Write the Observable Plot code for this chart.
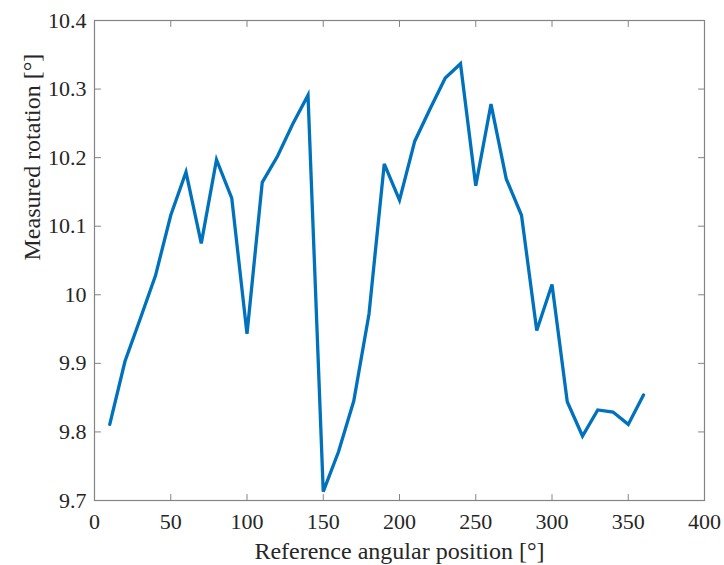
<!DOCTYPE html>
<html>
<head>
<meta charset="utf-8">
<script src="https://cdn.jsdelivr.net/npm/d3@7"></script>
<script src="https://cdn.jsdelivr.net/npm/@observablehq/plot@0.6"></script>
<style>
  html, body { margin: 0; padding: 0; background: #fff; }
  #chart { width: 724px; height: 565px; }
  #chart svg, #chart svg text { font-family: "Liberation Serif", "DejaVu Serif", serif !important; }
</style>
</head>
<body>
<div id="chart"></div>
<script>
const angles = [10,20,30,40,50,60,70,80,90,100,110,120,130,140,150,160,170,180,190,200,210,220,230,240,250,260,270,280,290,300,310,320,330,340,350,360];
const rotations = [9.811,9.903,9.965,10.028,10.116,10.179,10.075,10.197,10.141,9.943,10.164,10.202,10.249,10.291,9.713,9.771,9.845,9.972,10.191,10.138,10.224,10.271,10.316,10.337,10.159,10.278,10.169,10.116,9.948,10.015,9.844,9.794,9.832,9.829,9.811,9.854];
const xTicks = [0,50,100,150,200,250,300,350,400];
const yTicks = [9.7,9.8,9.9,10.0,10.1,10.2,10.3,10.4];
const yTickLabels = ["9.7","9.8","9.9","10","10.1","10.2","10.3","10.4"];
const xLabel = "Reference angular position [°]";
const yLabel = "Measured rotation [°]";

const data = angles.map((a, i) => ({angle: a, rotation: rotations[i]}));
const tickShape = {draw(context, l) { context.moveTo(0, 0); context.lineTo(0, -l); }};
const frameColor = "#848484";
const textColor = "#262626";
const serif = "Liberation Serif";

const chart = Plot.plot({
  width: 724,
  height: 565,
  marginLeft: 94,
  marginRight: 20,
  marginTop: 20,
  marginBottom: 65,
  style: {fontFamily: serif, fontSize: "22px", color: textColor, background: "#fff"},
  x: {domain: [0, 400]},
  y: {domain: [9.7, 10.4]},
  marks: [
    Plot.axisX(xTicks, {tickSize: 0, tickPadding: 13, label: null, fontSize: 22, fontFamily: serif, fontVariant: "normal", fill: textColor, tickFormat: d => String(d)}),
    Plot.axisY(yTicks, {tickSize: 0, tickPadding: 8, label: null, fontSize: 22, fontFamily: serif, fontVariant: "normal", fill: textColor, tickFormat: d => yTickLabels[yTicks.indexOf(d)]}),
    Plot.vectorX(xTicks, {x: d => d, frameAnchor: "bottom", length: 6, rotate: 0, anchor: "start", shape: tickShape, stroke: frameColor, strokeWidth: 1}),
    Plot.vectorX(xTicks, {x: d => d, frameAnchor: "top", length: 6, rotate: 180, anchor: "start", shape: tickShape, stroke: frameColor, strokeWidth: 1}),
    Plot.vectorY(yTicks, {y: d => d, frameAnchor: "left", length: 6, rotate: 90, anchor: "start", shape: tickShape, stroke: frameColor, strokeWidth: 1}),
    Plot.vectorY(yTicks, {y: d => d, frameAnchor: "right", length: 6, rotate: -90, anchor: "start", shape: tickShape, stroke: frameColor, strokeWidth: 1}),
    Plot.frame({stroke: frameColor, strokeWidth: 1.2}),
    Plot.line(data, {x: "angle", y: "rotation", stroke: "#0072BD", strokeWidth: 3.3, strokeLinejoin: "miter", strokeMiterlimit: 4}),
    Plot.text([xLabel], {text: d => d, frameAnchor: "bottom", lineAnchor: "bottom", dy: 58, fontSize: 24, fontFamily: serif, fill: textColor}),
    Plot.text([yLabel], {text: d => d, frameAnchor: "left", lineAnchor: "bottom", rotate: -90, dx: -55, fontSize: 24, fontFamily: serif, fill: textColor})
  ]
});
document.getElementById("chart").appendChild(chart);
</script>
</body>
</html>
